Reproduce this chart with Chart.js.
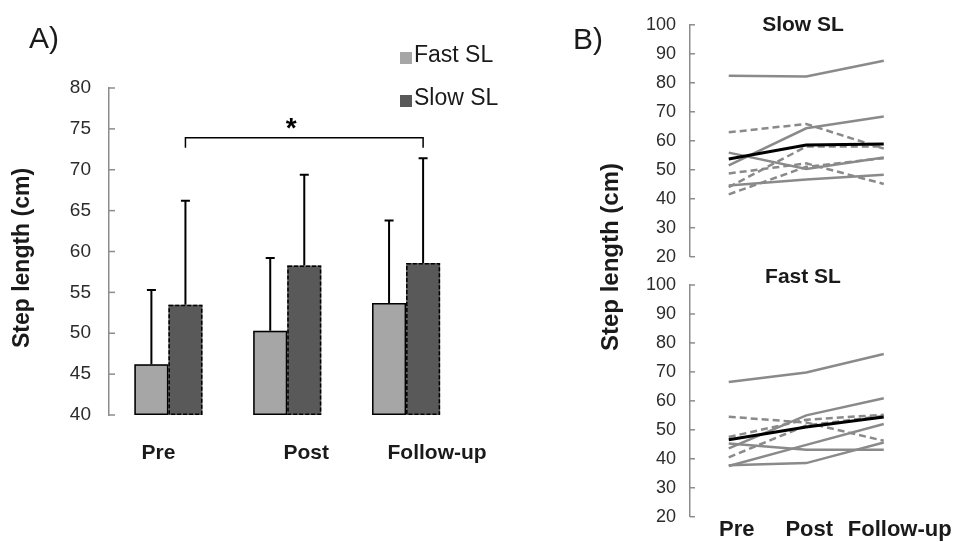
<!DOCTYPE html>
<html><head><meta charset="utf-8">
<script src="https://cdn.jsdelivr.net/npm/chart.js@4"></script>
<style>
html,body{margin:0;padding:0;background:#fff;}
#wrap{position:relative;width:955px;height:542px;overflow:hidden;background:#fff}
canvas{position:absolute;left:0;top:0}
</style></head><body>
<div id="wrap">
<canvas id="cA" width="955" height="542"></canvas>
<canvas id="cS" width="955" height="542"></canvas>
<canvas id="cF" width="955" height="542"></canvas>
</div>
<script>
// ---------- DATA ----------
const categories = ['Pre', 'Post', 'Follow-up'];
const seriesNames = ['Fast SL', 'Slow SL'];

// Panel A: group means and SD (upper error bar only)
const fastMean = [46.2, 50.3, 53.7];
const fastSD   = [9.1, 8.9, 10.1];
const slowMean = [53.5, 58.3, 58.6];
const slowSD   = [12.7, 11.1, 12.8];
const yTicksA  = { min: 40, max: 80, step: 5 };
const sigBracket = { fromIndex: 0, toIndex: 2, level: 73.9, legEnd: 72.7, mark: '*' };

// Panel B: individual participants + group mean
const slowSubjects = [
  [82.4, 82.2, 87.6],
  [51.5, 64.3, 68.4],
  [62.9, 65.8, 57.3],
  [55.9, 50.3, 54.2],
  [44.6, 46.6, 48.3],
  [48.7, 52.2, 45.1],
  [44.0, 58.0, 58.0],
  [41.5, 51.0, 54.0]
];
const slowDashed = [false, false, true, false, false, true, true, true];
const slowGroupMean = [53.7, 58.5, 58.9];

const fastSubjects = [
  [66.5, 69.8, 76.2],
  [43.6, 55.0, 60.9],
  [54.5, 52.5, 46.2],
  [47.5, 53.5, 55.2],
  [45.3, 43.1, 43.1],
  [40.5, 51.5, 54.8],
  [37.5, 44.8, 52.0],
  [37.8, 38.5, 45.6]
];
const fastDashed = [false, false, true, true, false, true, false, false];
const fastGroupMean = [46.6, 51.0, 54.4];
const yTicksB = { min: 20, max: 100, step: 10 };

// ---------- STYLE ----------
const FONT = '"Liberation Sans", Arial, Helvetica, sans-serif';
const AXIS_GREY = '#8c8c8c';
const LINE_GREY = '#8a8a8a';
const FAST_FILL = '#a6a6a6';
const SLOW_FILL = '#595959';
const TEXT = '#1a1a1a';

// inward tick marks on the y axis + free text items + category labels
const decor = {
  id: 'decor',
  afterDraw(chart, args, opts) {
    const ctx = chart.ctx;
    const ys = chart.scales.y;
    ctx.save();
    ctx.strokeStyle = AXIS_GREY;
    ctx.lineWidth = 1.5;
    ys.ticks.forEach((t, i) => {
      const yy = ys.getPixelForTick(i);
      ctx.beginPath();
      ctx.moveTo(ys.right, yy);
      ctx.lineTo(ys.right + (opts.tickLen || 6), yy);
      ctx.stroke();
    });
    if (opts.cat) {
      const xs = chart.scales.x;
      ctx.fillStyle = TEXT;
      ctx.font = opts.cat.font;
      ctx.textAlign = 'center';
      ctx.textBaseline = 'middle';
      categories.forEach((c, i) => {
        ctx.fillText(c, xs.getPixelForValue(i) + opts.cat.offsets[i], opts.cat.y);
      });
    }
    (opts.texts || []).forEach(t => {
      ctx.save();
      ctx.fillStyle = t.color || TEXT;
      ctx.font = t.font;
      ctx.textAlign = t.align || 'center';
      ctx.textBaseline = 'middle';
      ctx.translate(t.x, t.y);
      if (t.rot) ctx.rotate(t.rot);
      ctx.fillText(t.text, 0, 0);
      ctx.restore();
    });
    ctx.restore();
  }
};

const barExtras = {
  id: 'barExtras',
  afterDatasetsDraw(chart) {
    const ctx = chart.ctx, y = chart.scales.y;
    const bottom = chart.chartArea.bottom;
    const sds = [fastSD, slowSD];
    const dashes = [[], [4, 2]];
    ctx.save();
    // bar outlines (solid for fast, dashed for slow)
    [0, 1].forEach(di => {
      const meta = chart.getDatasetMeta(di);
      ctx.setLineDash(dashes[di]);
      ctx.lineWidth = 1.5;
      ctx.strokeStyle = '#000';
      meta.data.forEach(el => {
        const p = el.getProps(['x', 'y', 'base', 'width'], true);
        const b = Math.min(p.base, bottom);
        ctx.strokeRect(p.x - p.width / 2 + 0.75, p.y + 0.75, p.width - 1.5, b - p.y - 1.5);
      });
    });
    ctx.setLineDash([]);
    // upper error bars
    [0, 1].forEach(di => {
      const meta = chart.getDatasetMeta(di);
      const ds = chart.data.datasets[di];
      meta.data.forEach((el, i) => {
        const p = el.getProps(['x', 'y'], true);
        const top = y.getPixelForValue(ds.data[i] + sds[di][i]);
        ctx.lineWidth = 2;
        ctx.beginPath();
        ctx.moveTo(p.x, p.y);
        ctx.lineTo(p.x, top);
        ctx.moveTo(p.x - 4.5, top);
        ctx.lineTo(p.x + 4.5, top);
        ctx.stroke();
      });
    });
    // significance bracket
    const m1 = chart.getDatasetMeta(1);
    const x1 = m1.data[sigBracket.fromIndex].x;
    const x2 = m1.data[sigBracket.toIndex].x;
    const yl = y.getPixelForValue(sigBracket.level);
    const yg = y.getPixelForValue(sigBracket.legEnd);
    ctx.lineWidth = 1.5;
    ctx.beginPath();
    ctx.moveTo(x1, yg); ctx.lineTo(x1, yl); ctx.lineTo(x2, yl); ctx.lineTo(x2, yg);
    ctx.stroke();
    ctx.fillStyle = '#000';
    ctx.font = 'bold 28px ' + FONT;
    ctx.textAlign = 'center';
    ctx.textBaseline = 'alphabetic';
    ctx.fillText(sigBracket.mark, (x1 + x2) / 2 - 13, yl - 1);
    // legend
    ctx.font = '23px ' + FONT;
    ctx.textAlign = 'left';
    ctx.textBaseline = 'middle';
    const legY = [56, 99];
    chart.data.datasets.forEach((ds, i) => {
      ctx.fillStyle = ds.backgroundColor;
      ctx.fillRect(400, legY[i] - 4, 12, 12);
      ctx.fillStyle = TEXT;
      ctx.fillText(ds.label, 414, legY[i]);
    });
    ctx.restore();
  }
};

// ---------- PANEL A ----------
new Chart(document.getElementById('cA'), {
  type: 'bar',
  data: {
    labels: categories,
    datasets: [
      { label: seriesNames[0], data: fastMean, backgroundColor: FAST_FILL, borderWidth: 0 },
      { label: seriesNames[1], data: slowMean, backgroundColor: SLOW_FILL, borderWidth: 0 }
    ]
  },
  options: {
    responsive: false,
    animation: false,
    events: [],
    layout: { padding: { left: 0, right: 955 - 465.5, top: 88, bottom: 542 - 415 } },
    datasets: { bar: { categoryPercentage: 0.573, barPercentage: 1.0 } },
    plugins: {
      legend: { display: false },
      tooltip: { enabled: false },
      decor: {
        tickLen: 6,
        cat: { font: 'bold 21px ' + FONT, y: 453, offsets: [-10, 19, 31] },
        texts: [
          { text: 'A)', x: 44, y: 40, font: '30px ' + FONT },
          { text: 'Step length (cm)', x: 23, y: 258, rot: -Math.PI / 2, font: 'bold 23px ' + FONT }
        ]
      }
    },
    scales: {
      x: { display: false, offset: true },
      y: {
        min: yTicksA.min, max: yTicksA.max,
        ticks: { stepSize: yTicksA.step, padding: 18, color: '#2b2b2b',
                 font: { family: FONT, size: 19 } },
        grid: { display: true, drawOnChartArea: false, drawTicks: false },
        border: { display: true, color: AXIS_GREY, width: 1.5 },
        afterFit: s => { s.width = 109; }
      }
    }
  },
  plugins: [decor, barExtras]
});

// ---------- PANEL B ----------
function lineDatasets(subjects, dashed, mean) {
  const out = subjects.map((vals, i) => ({
    label: 'P' + (i + 1), data: vals, borderColor: LINE_GREY, borderWidth: 2.5,
    borderDash: dashed[i] ? [7, 4] : [], pointRadius: 0, tension: 0, order: 1, fill: false
  }));
  out.push({ label: 'Mean', data: mean, borderColor: '#000', borderWidth: 3,
             pointRadius: 0, tension: 0, order: 0, fill: false });
  return out;
}

function lineOptions(top, bottom, decorOpts) {
  return {
    responsive: false,
    animation: false,
    events: [],
    layout: { padding: { left: 630, right: 955 - 922.5, top: top, bottom: 542 - bottom } },
    plugins: { legend: { display: false }, tooltip: { enabled: false }, decor: decorOpts },
    scales: {
      x: { display: false, offset: true },
      y: {
        min: yTicksB.min, max: yTicksB.max,
        ticks: { stepSize: yTicksB.step, padding: 14, color: '#2b2b2b',
                 font: { family: FONT, size: 18 } },
        grid: { display: true, drawOnChartArea: false, drawTicks: false },
        border: { display: true, color: AXIS_GREY, width: 1.5 },
        afterFit: s => { s.width = 60; }
      }
    }
  };
}

new Chart(document.getElementById('cS'), {
  type: 'line',
  data: { labels: categories, datasets: lineDatasets(slowSubjects, slowDashed, slowGroupMean) },
  options: lineOptions(20.7, 256.7, {
    tickLen: 5,
    texts: [
      { text: 'Slow SL', x: 803, y: 25, font: 'bold 21px ' + FONT },
      { text: 'B)', x: 588, y: 41, font: '30px ' + FONT },
      { text: 'Step length (cm)', x: 611, y: 257, rot: -Math.PI / 2, font: 'bold 24px ' + FONT }
    ]
  }),
  plugins: [decor]
});

new Chart(document.getElementById('cF'), {
  type: 'line',
  data: { labels: categories, datasets: lineDatasets(fastSubjects, fastDashed, fastGroupMean) },
  options: lineOptions(285, 516.7, {
    tickLen: 5,
    cat: { font: 'bold 22px ' + FONT, y: 530, offsets: [8, 3, 16] },
    texts: [
      { text: 'Fast SL', x: 803, y: 277, font: 'bold 21px ' + FONT }
    ]
  }),
  plugins: [decor]
});
</script>
</body></html>
